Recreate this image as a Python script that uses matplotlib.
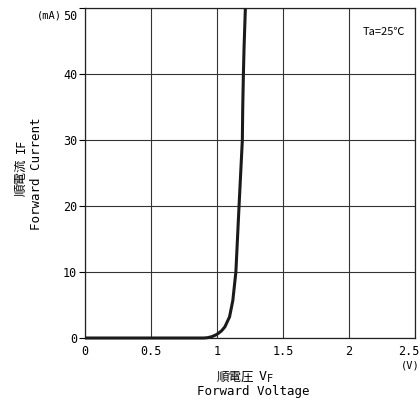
import matplotlib
matplotlib.use("Agg")
import matplotlib.pyplot as plt
import matplotlib.transforms as mtransforms

# data
vf = [0.0, 0.90, 0.93, 0.96, 0.99, 1.01, 1.035, 1.06, 1.095, 1.12, 1.143, 1.167, 1.192, 1.195, 1.20, 1.205, 1.215]
i_f = [0.0, 0.0, 0.05, 0.2, 0.45, 0.7, 1.1, 1.7, 3.2, 5.7, 10.0, 20.0, 30.0, 35.0, 40.0, 44.0, 50.0]
xticks = [0, 0.5, 1, 1.5, 2, 2.5]
xticklabels = ["0", "0.5", "1", "1.5", "2", "2.5"]
yticks = [0, 10, 20, 30, 40, 50]
yticklabels = ["0", "10", "20", "30", "40", "50"]

W, H = 420, 405
fig = plt.figure(figsize=(W / 100, H / 100), dpi=100)
ax = fig.add_axes([85 / W, 1 - 338 / H, 330 / W, 330 / H])

mono = ["DejaVu Sans Mono", "Noto Sans CJK JP"]
cjk = ["Noto Sans CJK JP", "DejaVu Sans"]

ax.plot(vf, i_f, color="#1a1a1a", lw=2.2, solid_capstyle="butt", zorder=3, clip_on=False)
ax.set_xlim(0, 2.5)
ax.set_ylim(0, 50)
ax.set_xticks(xticks)
ax.set_xticklabels(xticklabels, family=mono, fontsize=8.5)
ax.set_yticks(yticks)
ax.set_yticklabels(yticklabels, family=mono, fontsize=8.5)
ax.tick_params(axis="x", length=0, pad=5)
ax.tick_params(axis="y", length=4, width=0.8, pad=1.5, direction="out")
ax.grid(True, color="#333333", lw=0.8)
for s in ax.spines.values():
    s.set_linewidth(0.9)
    s.set_color("#222222")

# nudge the last x tick label so it stays inside the figure
last = ax.get_xticklabels()[-1]
last.set_transform(last.get_transform() + mtransforms.ScaledTranslation(-6 / 100, 0, fig.dpi_scale_trans))
# the top y label sits a little below its gridline in the reference
top = ax.get_yticklabels()[-1]
top.set_transform(top.get_transform() + mtransforms.ScaledTranslation(0, -7 / 100, fig.dpi_scale_trans))

def px(x, y):
    return x / W, 1 - y / H

fig.text(*px(62, 16), "(mA)", family=mono, fontsize=7.5, ha="right", va="center")
fig.text(*px(410, 365), "(V)", family=mono, fontsize=7.5, ha="center", va="center")
fig.text(*px(384, 32), "Ta=25℃", family=cjk, fontsize=8, ha="center", va="center")

# x label
fig.text(*px(254, 377), "順電圧", family=cjk, fontsize=9, ha="right", va="center")
fig.text(*px(259, 377), "V", family=mono, fontsize=9.5, ha="left", va="center")
fig.text(*px(267, 378.5), "F", family=mono, fontsize=7.5, ha="left", va="center")
fig.text(*px(253, 391), "Forward Voltage", family=mono, fontsize=9, ha="center", va="center")

# y label
fig.text(*px(21, 159), "順電流", family=cjk, fontsize=9, ha="center", va="top", rotation=90)
fig.text(*px(21, 153), "IF", family=mono, fontsize=8.5, ha="center", va="bottom", rotation=90)
fig.text(*px(37, 174), "Forward Current", family=mono, fontsize=9, ha="center", va="center", rotation=90)

fig.savefig("out.png", dpi=100, facecolor="white")
